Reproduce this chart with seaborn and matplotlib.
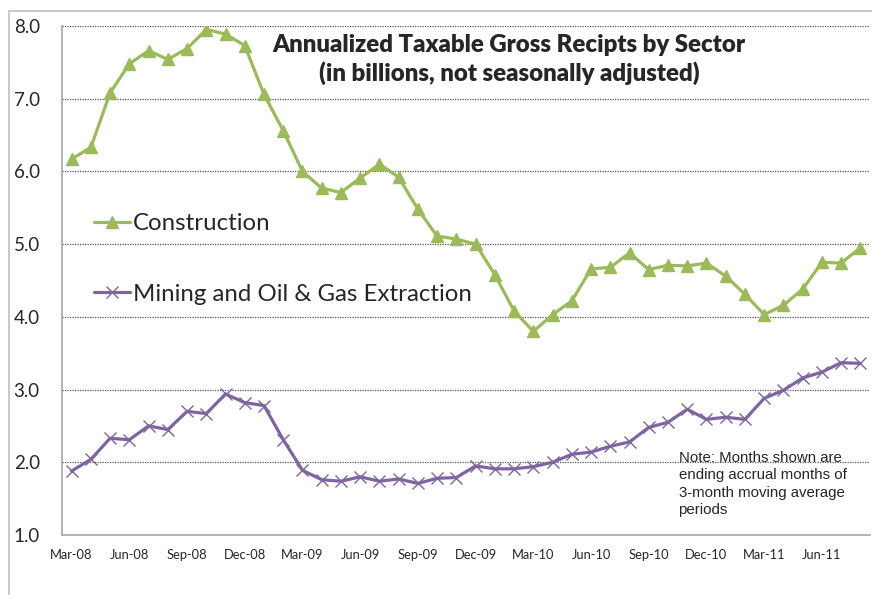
import numpy as np
import pandas as pd
import seaborn as sns
import matplotlib.pyplot as plt
from matplotlib.patches import Rectangle

# months Mar-08 .. Aug-11 (ending accrual months)
months = pd.date_range("2008-03-01", "2011-08-01", freq="MS").strftime("%b-%y").tolist()

construction = [6.17, 6.33, 7.08, 7.48, 7.66, 7.54, 7.69, 7.95, 7.89, 7.73,
                7.06, 6.56, 6.00, 5.77, 5.71, 5.91, 6.10, 5.92, 5.48, 5.11, 5.07, 5.00,
                4.58, 4.08, 3.80, 4.03, 4.22, 4.66, 4.68, 4.88, 4.65, 4.71, 4.70, 4.74,
                4.56, 4.31, 4.03, 4.16, 4.38, 4.75, 4.74, 4.95]
mining = [1.88, 2.04, 2.33, 2.31, 2.50, 2.45, 2.70, 2.67, 2.94, 2.82,
          2.78, 2.31, 1.89, 1.76, 1.74, 1.80, 1.74, 1.77, 1.71, 1.78, 1.79, 1.95,
          1.91, 1.91, 1.94, 2.00, 2.11, 2.14, 2.22, 2.28, 2.48, 2.55, 2.73, 2.59,
          2.62, 2.59, 2.88, 2.99, 3.16, 3.24, 3.37, 3.36]

df = pd.DataFrame({"idx": range(len(months)), "month": months,
                   "Construction": construction,
                   "Mining": mining})

sns.set_style("white")
plt.rcParams['font.family'] = ['Lato', 'DejaVu Sans']

fig = plt.figure(figsize=(8.72, 5.95), dpi=100)
ax = fig.add_axes([62/872, 1 - 535/595, 808/872, 509/595])

# outer chart-area border (only top and left show in the crop)
fig.patches.append(Rectangle((9/872, -0.1), 2, 1.1 - 11/595, transform=fig.transFigure,
                             fill=False, edgecolor="#BFBFBF", linewidth=1.2))

sns.lineplot(data=df, x="idx", y="Construction", color="#9BBB59", marker="^",
             markersize=9, markeredgewidth=1.0, markeredgecolor="#9BBB59",
             linewidth=2.3, label="Construction", ax=ax)
sns.lineplot(data=df, x="idx", y="Mining", color="#8064A2", marker="x",
             markersize=9, markeredgewidth=1.0, markeredgecolor="#8064A2",
             linewidth=2.3, label="Mining and Oil & Gas Extraction", ax=ax)

ax.set_xlim(-0.5, len(months) - 0.5)
ax.set_ylim(1.0, 8.0)
ax.set_yticks(np.arange(1, 9, 1))
ax.set_yticklabels([f"{v:.1f}" for v in range(1, 9)], fontsize=13.5)
ax.tick_params(axis="y", direction="out", length=6, color="#A6A6A6", pad=10)

ax.set_xticks(np.arange(-0.5, len(months), 3))
ax.set_xticklabels([])
ax.set_xticks(np.arange(0, len(months), 3), minor=True)
ax.set_xticklabels(months[::3], minor=True, fontsize=9.3)
ax.tick_params(axis="x", which="major", direction="out", length=5, color="#A6A6A6")
ax.tick_params(axis="x", which="minor", length=0, pad=10)

ax.set_xlabel("")
ax.set_ylabel("")
for s in ["top", "right"]:
    ax.spines[s].set_visible(False)
for s in ["left", "bottom"]:
    ax.spines[s].set_color("#A6A6A6")
    ax.spines[s].set_linewidth(1.2)

for v in range(2, 9):
    ax.axhline(v, color="#555555", linewidth=0.9, linestyle=(0, (1, 1)), zorder=0)

ax.text(0.553, 0.985, "Annualized Taxable Gross Recipts by Sector\n(in billions, not seasonally adjusted)",
        transform=ax.transAxes, ha="center", va="top", fontsize=17.3, fontweight="heavy",
        linespacing=1.3)

leg = ax.legend(loc="upper left", bbox_to_anchor=(0.040, 0.632), frameon=False,
                fontsize=17.3, labelspacing=2.05, handlelength=1.5, handletextpad=0.1,
                borderpad=0, borderaxespad=0)

ax.text(0.763, 0.165, "Note: Months shown are\nending accrual months of\n3-month moving average\nperiods",
        transform=ax.transAxes, ha="left", va="top", fontsize=10.8,
        family=["Liberation Sans", "DejaVu Sans"], linespacing=1.3)

fig.savefig("out.png", dpi=100)
